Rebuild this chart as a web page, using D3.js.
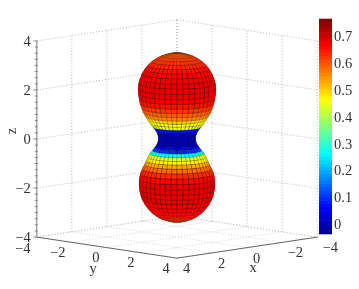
<!DOCTYPE html>
<html><head><meta charset="utf-8">
<script src="https://cdn.jsdelivr.net/npm/d3@7"></script>
<style>html,body{margin:0;background:#fff}svg{display:block;filter:blur(0.3px)}text{font-family:"Liberation Serif",serif;fill:#333}</style>
</head><body><svg id="c" width="359" height="289"></svg>
<script>
// Surface of revolution: rings top to bottom, one value per band between rings
const ringZ = [3.5,3.49,3.44,3.37,3.27,3.15,3.00,2.84,2.66,2.46,2.26,2.05,1.84,1.64,1.44,1.25,1.08,.92,.78,.65,.50,.37,.24,.12,0,-.12,-.24,-.35,-.47,-.6,-.74,-.88,-1.04,-1.22,-1.42,-1.63,-1.85,-2.06,-2.27,-2.47,-2.66,-2.83,-2.99,-3.12,-3.23,-3.30,-3.36,-3.38];
const ringR = [0,.22,.43,.64,.83,1.01,1.17,1.30,1.41,1.49,1.55,1.57,1.56,1.53,1.49,1.42,1.36,1.27,1.18,1.10,.98,.87,.80,.76,.75,.77,.82,.89,.99,1.10,1.18,1.24,1.31,1.40,1.48,1.52,1.53,1.515,1.47,1.40,1.30,1.17,1.02,.86,.67,.47,.27,0];
const bandV = [.59,.59,.60,.61,.62,.63,.65,.66,.67,.68,.68,.68,.67,.65,.62,.59,.56,.50,.46,.44,.08,.01,0,0,0,0,.03,.09,.26,.44,.47,.53,.58,.63,.66,.68,.68,.68,.68,.67,.67,.66,.65,.64,.63,.62,.61];
const axisTicks = [-4,-2,0,2,4];
const barTicks = [0,0.1,0.2,0.3,0.4,0.5,0.6,0.7];
const jetStops = [0,0.125,0.375,0.625,0.875,1];
const jetColors = ["#00008f","#0000ff","#00ffff","#ffff00","#ff0000","#7f0000"];
const barDomain = [-0.037,0.763];

const svg = d3.select("#c");
const cx=177, cy=139, sinEl=0.15, cosEl=0.989;
const world = d3.scaleLinear().domain([-4,4]).range([-99.2,99.2]);
const az = Math.SQRT1_2;
const proj = (x,y,z)=>[
  cx+(world(y)-world(x))*az,
  cy-world(z)*cosEl+(world(x)+world(y))*az*sinEl
];
const depth=(x,y,z)=>(world(x)+world(y))*az*cosEl+world(z)*sinEl;
const jet = d3.scaleLinear().domain(jetStops.map(t=>barDomain[0]+t*(barDomain[1]-barDomain[0]))).range(jetColors).clamp(true);
const line = d3.line();

// back walls and floor grid
const gridG = svg.append("g").attr("fill","none").attr("stroke","#999").attr("stroke-width",0.7).attr("stroke-dasharray","1 2");
const floorG = svg.append("g").attr("fill","none").attr("stroke","#c4c4c4").attr("stroke-width",0.7).attr("stroke-dasharray","1 2");
const seg=(g,a,b)=>g.append("path").attr("d",line([proj(...a),proj(...b)]));
axisTicks.forEach(t=>{
  seg(gridG,[4,-4,t],[-4,-4,t]);
  seg(gridG,[-4,-4,t],[-4,4,t]);
  seg(gridG,[t,-4,-4],[t,-4,4]);
  seg(gridG,[-4,t,-4],[-4,t,4]);
  seg(floorG,[t,-4,-4],[t,4,-4]);
  seg(floorG,[-4,t,-4],[4,t,-4]);
});

// front axes
const axG = svg.append("g").attr("fill","none").attr("stroke","#666");
axG.append("path").attr("stroke-width",1).attr("d",line([proj(4,-4,-4),proj(4,4,-4),proj(-4,4,-4)]));
axG.append("path").attr("stroke","#aaa").attr("stroke-width",1.6).attr("d",line([proj(4,-4,-4),proj(4,-4,4)]));
d3.range(-4,4.01,0.25).forEach(t=>{
  const p=proj(4,-4,t), major=axisTicks.includes(t);
  axG.append("path").attr("stroke-width",0.7).attr("d",line([[p[0]-(major?3.5:2),p[1]],[p[0]+1,p[1]]]));
});

// surface: quads sorted back to front; edges fade where cells are squeezed at the limb
const meridians=d3.range(0,360,9).map(d=>d*Math.PI/180);
const quads=[];
bandV.forEach((v,i)=>{
  meridians.forEach((t,j)=>{
    const u=meridians[(j+1)%meridians.length];
    const P=[[ringR[i]*Math.cos(t),ringR[i]*Math.sin(t),ringZ[i]],[ringR[i]*Math.cos(u),ringR[i]*Math.sin(u),ringZ[i]],[ringR[i+1]*Math.cos(u),ringR[i+1]*Math.sin(u),ringZ[i+1]],[ringR[i+1]*Math.cos(t),ringR[i+1]*Math.sin(t),ringZ[i+1]]];
    const pts=P.map(p=>proj(...p));
    quads.push({pts,d:d3.mean(P,p=>depth(...p)),v,area:Math.abs(d3.polygonArea(pts))});
  });
});
quads.sort((a,b)=>a.d-b.d);
svg.append("g").selectAll("path").data(quads).join("path")
  .attr("d",q=>line(q.pts)+"Z")
  .attr("fill",q=>jet(q.v))
  .attr("stroke","#000").attr("stroke-opacity",q=>Math.min(0.65,0.15+q.area/45)).attr("stroke-width",0.4).attr("stroke-linejoin","round");

// tick labels
const fs=14.5;
const lab=(s,x,y)=>svg.append("text").attr("x",x).attr("y",y).attr("text-anchor","middle").attr("dominant-baseline","central").attr("font-size",fs).text(s);
const fmt=t=>String(t).replace("-","\u2212");
axisTicks.forEach(t=>{
  const p=proj(4,-4,t);
  svg.append("text").attr("x",p[0]-6).attr("y",p[1]).attr("text-anchor","end").attr("dominant-baseline","central").attr("font-size",fs).text(fmt(t));
  const py=proj(4,t,-4); lab(fmt(t),py[0]-(t<0?14:11),py[1]+(t==-4?11:9.5));
  const px=proj(t,4,-4); lab(fmt(t),px[0]+(t<0?13:9.5),px[1]+10);
});
lab("y",93,268); lab("x",253,267);
svg.append("text").attr("transform","translate(11,131) rotate(-90)").attr("text-anchor","middle").attr("dominant-baseline","central").attr("font-size",fs).text("z");

// colour bar
const barY=d3.scaleLinear().domain(barDomain).range([234,19]);
const steps=d3.range(0,64);
svg.append("g").selectAll("rect").data(steps).join("rect")
  .attr("x",319).attr("width",13)
  .attr("y",i=>barY(barDomain[0]+(i+1)/64*(barDomain[1]-barDomain[0]))-0.3)
  .attr("height",215/64+0.6)
  .attr("fill",i=>jet(barDomain[0]+(i+0.5)/64*(barDomain[1]-barDomain[0])));
const barAxis=svg.append("g").attr("transform","translate(332,0)").call(d3.axisRight(barY).tickValues(barTicks).tickFormat(d=>d===0?"0":d3.format(".1f")(d)).tickSize(0).tickPadding(2));
barAxis.select(".domain").remove();
barAxis.selectAll("text").attr("font-size",fs).attr("font-family","Liberation Serif");
</script></body></html>
